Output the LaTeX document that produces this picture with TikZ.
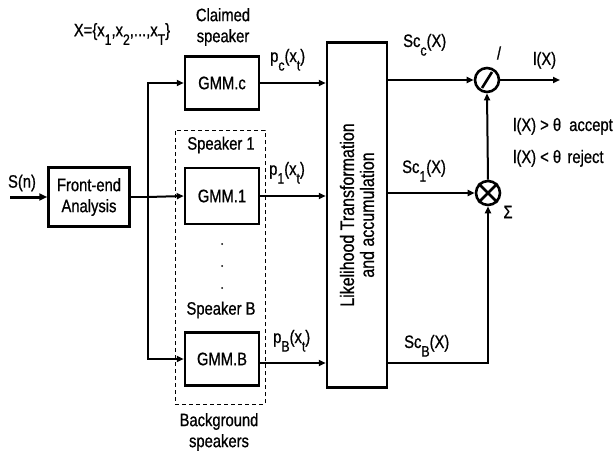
\documentclass[tikz,border=0pt]{standalone}
\usepackage{fontspec}
\setmainfont{Liberation Sans}[FakeStretch=0.82,FakeBold=0.8]
\usetikzlibrary{arrows.meta,calc}
\newcommand{\sbs}[1]{\raisebox{-0.9ex}{\fontsize{15}{15}\selectfont #1}}
\begin{document}
\begin{tikzpicture}[x=1pt,y=-1pt,
  font=\fontsize{18}{21}\selectfont,
  box/.style={draw,line width=2.5pt,minimum width=74pt,minimum height=53pt,inner sep=0pt},
  arr/.style={line width=2pt,-{Triangle[length=7pt,width=6pt]}},
  ln/.style={line width=2pt},
  op/.style={circle,draw,line width=2.6pt,minimum size=24pt,inner sep=0pt},
  lab/.style={inner sep=0pt}]
\useasboundingbox (0,0) rectangle (616,452);

% boxes
\node[box,minimum width=81pt,minimum height=59pt,align=center] (fe) at (89,197) {Front-end\\Analysis};
\node[box] (gc) at (222,83) {GMM.c};
\node[box,minimum height=56pt] (g1) at (222,196) {GMM.1};
\node[box] (gB) at (222,359) {GMM.B};
\node[draw,dash pattern=on 4pt off 3pt,line width=1pt,minimum width=90pt,minimum height=274pt] (bg) at (220,267) {};
\node[box,minimum width=60pt,minimum height=345pt] (lt) at (357,215) {};
\node[rotate=90,align=center,lab,font=\fontsize{19.5}{20}\selectfont] (ltt) at (lt.center) {Likelihood Transformation\\and accumulation};
\node[op] (dv) at (487,80) {};
\draw[line width=2.6pt] ($(dv.center)+(-5,8)$) -- ($(dv.center)+(5,-8)$);
\node[op] (ml) at (488,193) {};
\draw[line width=2.6pt] (ml.north west) -- (ml.south east) (ml.north east) -- (ml.south west);

% connectors
\coordinate (sin) at (10,197);
\draw[line width=3pt,-{Triangle[length=8pt,width=7pt]}] (sin) -- (fe.west);
\coordinate (tk) at (148,197);
\draw[ln] (fe.east) -- (tk);
\draw[arr] (tk) -- (g1.west);
\draw[arr] (tk) |- (gc.west);
\draw[arr] (tk) |- (gB.west);
\draw[arr] (gc.east) -- (gc.east -| lt.west);
\draw[arr] (g1.east) -- (g1.east -| lt.west);
\coordinate (bo) at ([yshift=-4pt]gB.east);
\draw[arr] (bo) -- (bo -| lt.west);
\draw[arr] (lt.east |- dv) -- (dv.west);
\draw[arr] (lt.east |- ml) -- (ml.west);
\coordinate (sb) at (lt.east |- bo);
\draw[arr] (sb) -| (ml.south);
\draw[arr] (ml.north) -- (dv.south);
\coordinate (out) at (560,80);
\draw[arr] (dv.east) -- (out);

% dots
\fill (222,244) circle (1pt) (222,266) circle (1pt) (222,288) circle (1pt);

% labels
\node[lab] (sn) at (22,183) {S(n)};
\node[lab] (xs) at (122,34) {X=\{x\sbs{1},x\sbs{2},...,x\sbs{T}\}};
\node[lab,align=center] (cs) at (223,27) {Claimed\\speaker};
\node[lab] (s1) at (221,145) {Speaker 1};
\node[lab] (sB) at (221,310) {Speaker B};
\node[lab,align=center] (bs) at (219,432) {Background\\speakers};
\node[lab,anchor=base west] (pc) at (270,62) {p\sbs{c}(x\sbs{t})};
\node[lab,anchor=base west] (p1) at (269,175) {p\sbs{1}(x\sbs{t})};
\node[lab,anchor=base west] (pB) at (273,343) {p\sbs{B}(x\sbs{t})};
\node[lab,anchor=base west] (scc) at (403,47) {Sc\sbs{c}(X)};
\node[lab,anchor=base west] (sc1) at (402,173) {Sc\sbs{1}(X)};
\node[lab,anchor=base west] (scB) at (404,348) {Sc\sbs{B}(X)};
\node[lab] (sl) at (499,53) {/};
\node[lab,anchor=base west] (lx) at (533,65) {l(X)};
\node[lab,anchor=base west] (acc) at (513,131) {l(X) > θ\hspace{0.45em}accept};
\node[lab,anchor=base west] (rej) at (513,163) {l(X) < θ\hspace{0.35em}reject};
\node[lab] (sg) at (508,212) {Σ};
\end{tikzpicture}
\end{document}
